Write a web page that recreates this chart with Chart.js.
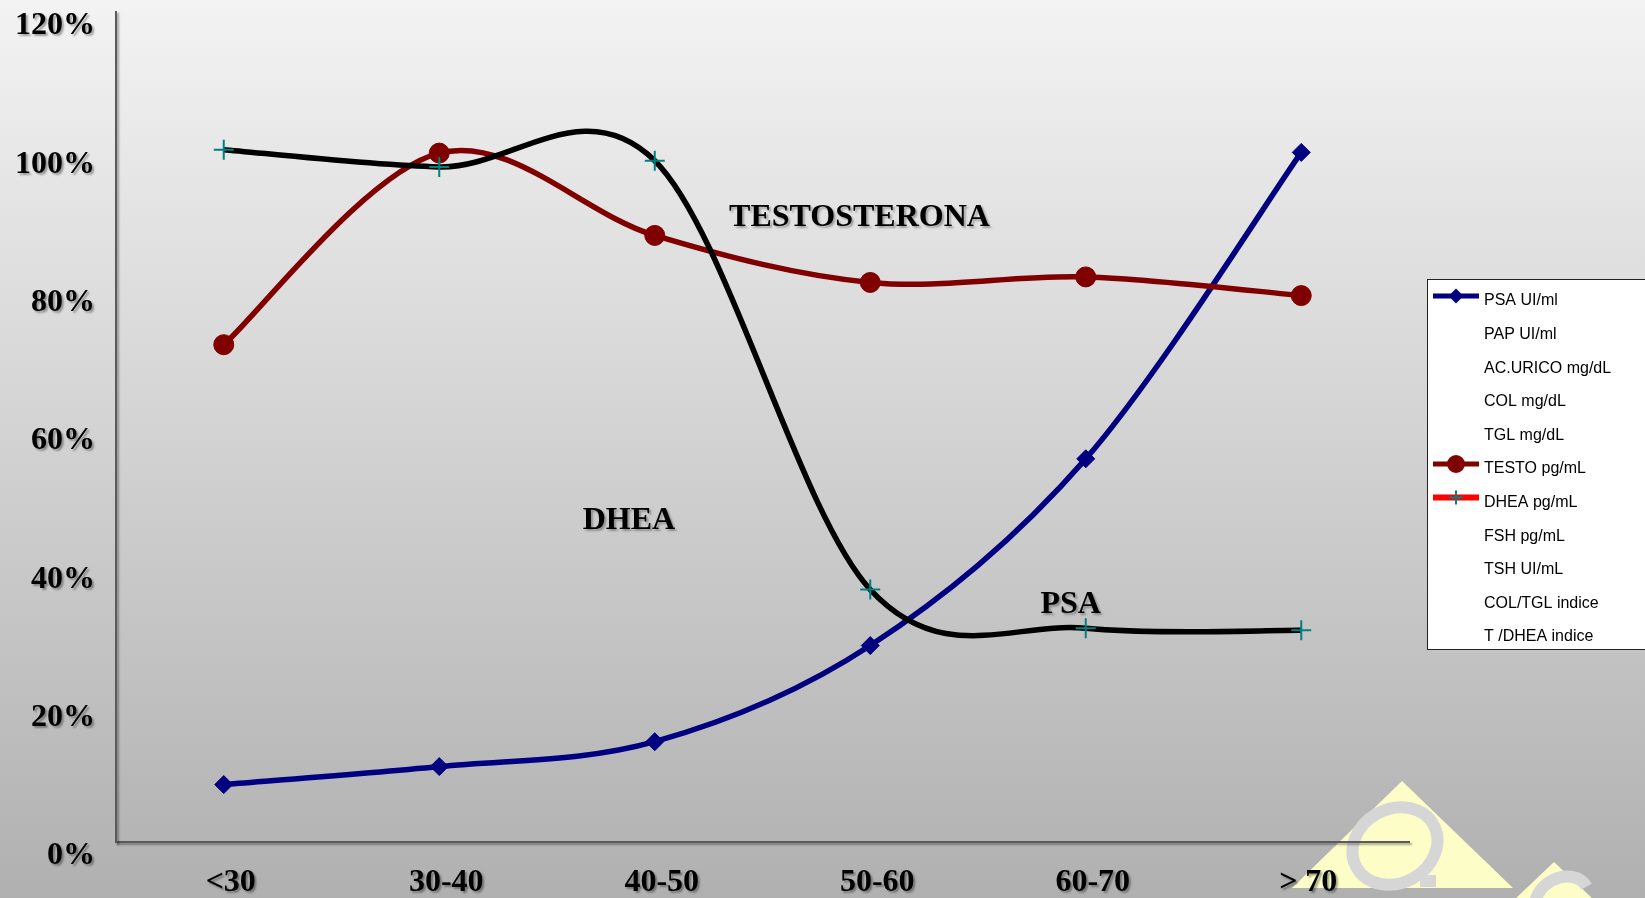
<!DOCTYPE html>
<html>
<head>
<meta charset="utf-8">
<script src="https://cdn.jsdelivr.net/npm/chart.js@4/dist/chart.umd.min.js"></script>
<style>
  html, body { margin: 0; padding: 0; background: #d0d0d0; }
  #wrap { width: 1645px; height: 898px; }
</style>
</head>
<body>
<div id="wrap"><canvas id="chart" width="1645" height="898"></canvas></div>
<script>
const ageGroups = ['<30', '30-40', '40-50', '50-60', '60-70', '> 70'];
const psaValues = [8.3, 10.9, 14.5, 28.4, 55.4, 99.7];
const testoValues = [71.9, 99.6, 87.7, 80.9, 81.7, 79.0];
const dheaValues = [100.1, 97.6, 98.5, 36.5, 30.9, 30.6];
const yMax = 120;
const yStep = 20;

const legendNames = ['PSA UI/ml', 'PAP UI/ml', 'AC.URICO mg/dL', 'COL mg/dL', 'TGL mg/dL',
  'TESTO pg/mL', 'DHEA pg/mL', 'FSH pg/mL', 'TSH UI/mL', 'COL/TGL indice', 'T /DHEA indice'];

// names written next to the curves (x = category index, y = percent)
const curveNames = ['TESTOSTERONA', 'DHEA', 'PSA'];
const curveNameX = [2.95, 1.88, 3.93];
const curveNameY = [90.2, 46.5, 34.3];

const serif = '"Liberation Serif", "Times New Roman", serif';

// legend row -> how the sample is drawn
const legendStyles = {
  0: { line: '#000080', width: 5, point: 'rectRot', r: 6, fill: '#000080', stroke: '#000080' },
  5: { line: '#800000', width: 5, point: 'circle', r: 8, fill: '#800000', stroke: '#800000' },
  6: { line: '#ff0000', width: 6, point: 'cross', r: 7, fill: '#008080', stroke: '#008080' }
};

// paint the grey gradient and the little logo behind everything
const backdrop = {
  id: 'backdrop',
  beforeDraw(chart) {
    const ctx = chart.ctx;
    const g = ctx.createLinearGradient(0, 0, 0, chart.height);
    g.addColorStop(0, '#f3f3f3');
    g.addColorStop(1, '#b0b0b0');
    ctx.save();
    ctx.fillStyle = g;
    ctx.fillRect(0, 0, chart.width, chart.height);

    // logo: pale triangles with a grey Q
    ctx.fillStyle = '#fdfdc8';
    ctx.beginPath();
    ctx.moveTo(1402, 781); ctx.lineTo(1513, 888); ctx.lineTo(1292, 888); ctx.closePath();
    ctx.fill();
    ctx.beginPath();
    ctx.moveTo(1554, 862); ctx.lineTo(1594, 900); ctx.lineTo(1514, 900); ctx.closePath();
    ctx.fill();
    ctx.strokeStyle = '#d6d6d6';
    ctx.lineWidth = 12;
    ctx.beginPath();
    ctx.ellipse(1395, 846, 44, 37, -0.5, 0, Math.PI * 2);
    ctx.stroke();
    ctx.beginPath();
    ctx.moveTo(1420, 881); ctx.lineTo(1436, 881);
    ctx.stroke();
    ctx.beginPath();
    ctx.ellipse(1562, 900, 28, 22, -0.5, Math.PI, Math.PI * 2);
    ctx.stroke();
    ctx.restore();

    // soft shadow for the axis texts
    ctx.shadowColor = 'rgba(0,0,0,0.35)';
    ctx.shadowOffsetX = 2;
    ctx.shadowOffsetY = 2;
    ctx.shadowBlur = 2;
  },
  beforeDatasetsDraw(chart) {
    const ctx = chart.ctx;
    ctx.shadowColor = 'rgba(0,0,0,0)';
    ctx.shadowOffsetX = 0;
    ctx.shadowOffsetY = 0;
    ctx.shadowBlur = 0;
  }
};

// Excel style smoothing: control points at 1/6 of the neighbour span
const excelSmooth = {
  id: 'excelSmooth',
  beforeDatasetsDraw(chart) {
    chart.getSortedVisibleDatasetMetas().forEach(meta => {
      const pts = meta.data;
      const n = pts.length;
      for (let i = 0; i < n; i++) {
        const a = pts[Math.max(i - 1, 0)];
        const p = pts[i];
        const b = pts[Math.min(i + 1, n - 1)];
        const dx = (b.x - a.x) / 6;
        const dy = (b.y - a.y) / 6;
        p.cp1x = p.x - dx; p.cp1y = p.y - dy;
        p.cp2x = p.x + dx; p.cp2y = p.y + dy;
      }
      meta.dataset._pointsUpdated = true;
      meta.dataset._path = undefined;
    });
  }
};

const curveLabels = {
  id: 'curveLabels',
  afterDatasetsDraw(chart) {
    const ctx = chart.ctx;
    const xs = chart.scales.x, ys = chart.scales.y;
    ctx.save();
    ctx.font = 'bold 32px ' + serif;
    ctx.fillStyle = '#000';
    ctx.textAlign = 'center';
    ctx.textBaseline = 'middle';
    ctx.shadowColor = 'rgba(0,0,0,0.3)';
    ctx.shadowOffsetX = 2;
    ctx.shadowOffsetY = 2;
    ctx.shadowBlur = 2;
    curveNames.forEach((t, i) => {
      ctx.fillText(t, xs.getPixelForValue(curveNameX[i]), ys.getPixelForValue(curveNameY[i]));
    });
    ctx.restore();
  }
};

const boxLegend = {
  id: 'boxLegend',
  afterDraw(chart) {
    const ctx = chart.ctx;
    const left = 1427, top = 279, bottom = 649;
    const rowTop = 301, rowStep = 33.6;
    ctx.save();
    ctx.shadowColor = 'rgba(0,0,0,0)';
    ctx.fillStyle = '#ffffff';
    ctx.fillRect(left, top, chart.width - left + 2, bottom - top);
    ctx.strokeStyle = '#222';
    ctx.lineWidth = 1;
    ctx.strokeRect(left + 0.5, top + 0.5, chart.width, bottom - top);

    ctx.font = '16px "Liberation Sans", Arial, sans-serif';
    ctx.textAlign = 'left';
    ctx.textBaseline = 'middle';
    legendNames.forEach((name, i) => {
      const y = rowTop + i * rowStep;
      const st = legendStyles[i];
      if (st) {
        const ly = y - 5;
        ctx.strokeStyle = st.line;
        ctx.lineWidth = st.width;
        ctx.beginPath();
        ctx.moveTo(1433, ly); ctx.lineTo(1479, ly);
        ctx.stroke();
        ctx.fillStyle = st.fill;
        ctx.strokeStyle = st.stroke;
        ctx.lineWidth = 2;
        Chart.helpers.drawPoint(ctx, { pointStyle: st.point, radius: st.r, rotation: 0, borderWidth: 2 }, 1456, ly);
      }
      ctx.fillStyle = '#000';
      ctx.fillText(name, 1484, y);
    });
    ctx.restore();
  }
};

new Chart(document.getElementById('chart'), {
  type: 'line',
  data: {
    labels: ageGroups,
    datasets: [
      {
        label: 'PSA UI/ml',
        data: psaValues,
        borderColor: '#000080',
        backgroundColor: '#000080',
        borderWidth: 5.5,
        pointStyle: 'rectRot',
        pointRadius: 9,
        pointBorderWidth: 1,
        tension: 0.4,
        order: 3
      },
      {
        label: 'TESTO pg/mL',
        data: testoValues,
        borderColor: '#800000',
        backgroundColor: '#800000',
        borderWidth: 5.5,
        pointStyle: 'circle',
        pointRadius: 10,
        pointBorderWidth: 1,
        tension: 0.4,
        order: 2
      },
      {
        label: 'DHEA pg/mL',
        data: dheaValues,
        borderColor: '#000000',
        backgroundColor: '#008080',
        borderWidth: 5.5,
        pointStyle: 'cross',
        pointRadius: 10,
        pointBorderColor: '#008080',
        pointBorderWidth: 2,
        tension: 0.4,
        order: 1
      }
    ]
  },
  options: {
    responsive: false,
    animation: false,
    layout: { padding: { left: 0, right: 236, top: 10.5, bottom: 0 } },
    plugins: {
      legend: { display: false },
      tooltip: { enabled: false }
    },
    scales: {
      x: {
        offset: true,
        grid: { display: false, drawTicks: false },
        border: { display: true, color: '#5a5a5a', width: 2 },
        ticks: {
          color: '#000',
          font: { family: serif, size: 32, weight: 'bold' },
          padding: 22,
          labelOffset: 7,
          maxRotation: 0,
          autoSkip: false
        },
        afterFit(s) {
          s.height = 56;
          s.paddingLeft = 0;
          s.paddingRight = 0;
        }
      },
      y: {
        min: 0,
        max: yMax,
        grid: { display: false, drawTicks: false },
        border: { display: true, color: '#5a5a5a', width: 2 },
        ticks: {
          stepSize: yStep,
          color: '#000',
          font: { family: serif, size: 32, weight: 'bold' },
          padding: 21,
          labelOffset: 14,
          callback: v => v + '%'
        },
        afterFit(s) {
          s.width = 116;
          s.paddingTop = 0;
          s.paddingBottom = 0;
        }
      }
    }
  },
  plugins: [backdrop, excelSmooth, curveLabels, boxLegend]
});
</script>
</body>
</html>
